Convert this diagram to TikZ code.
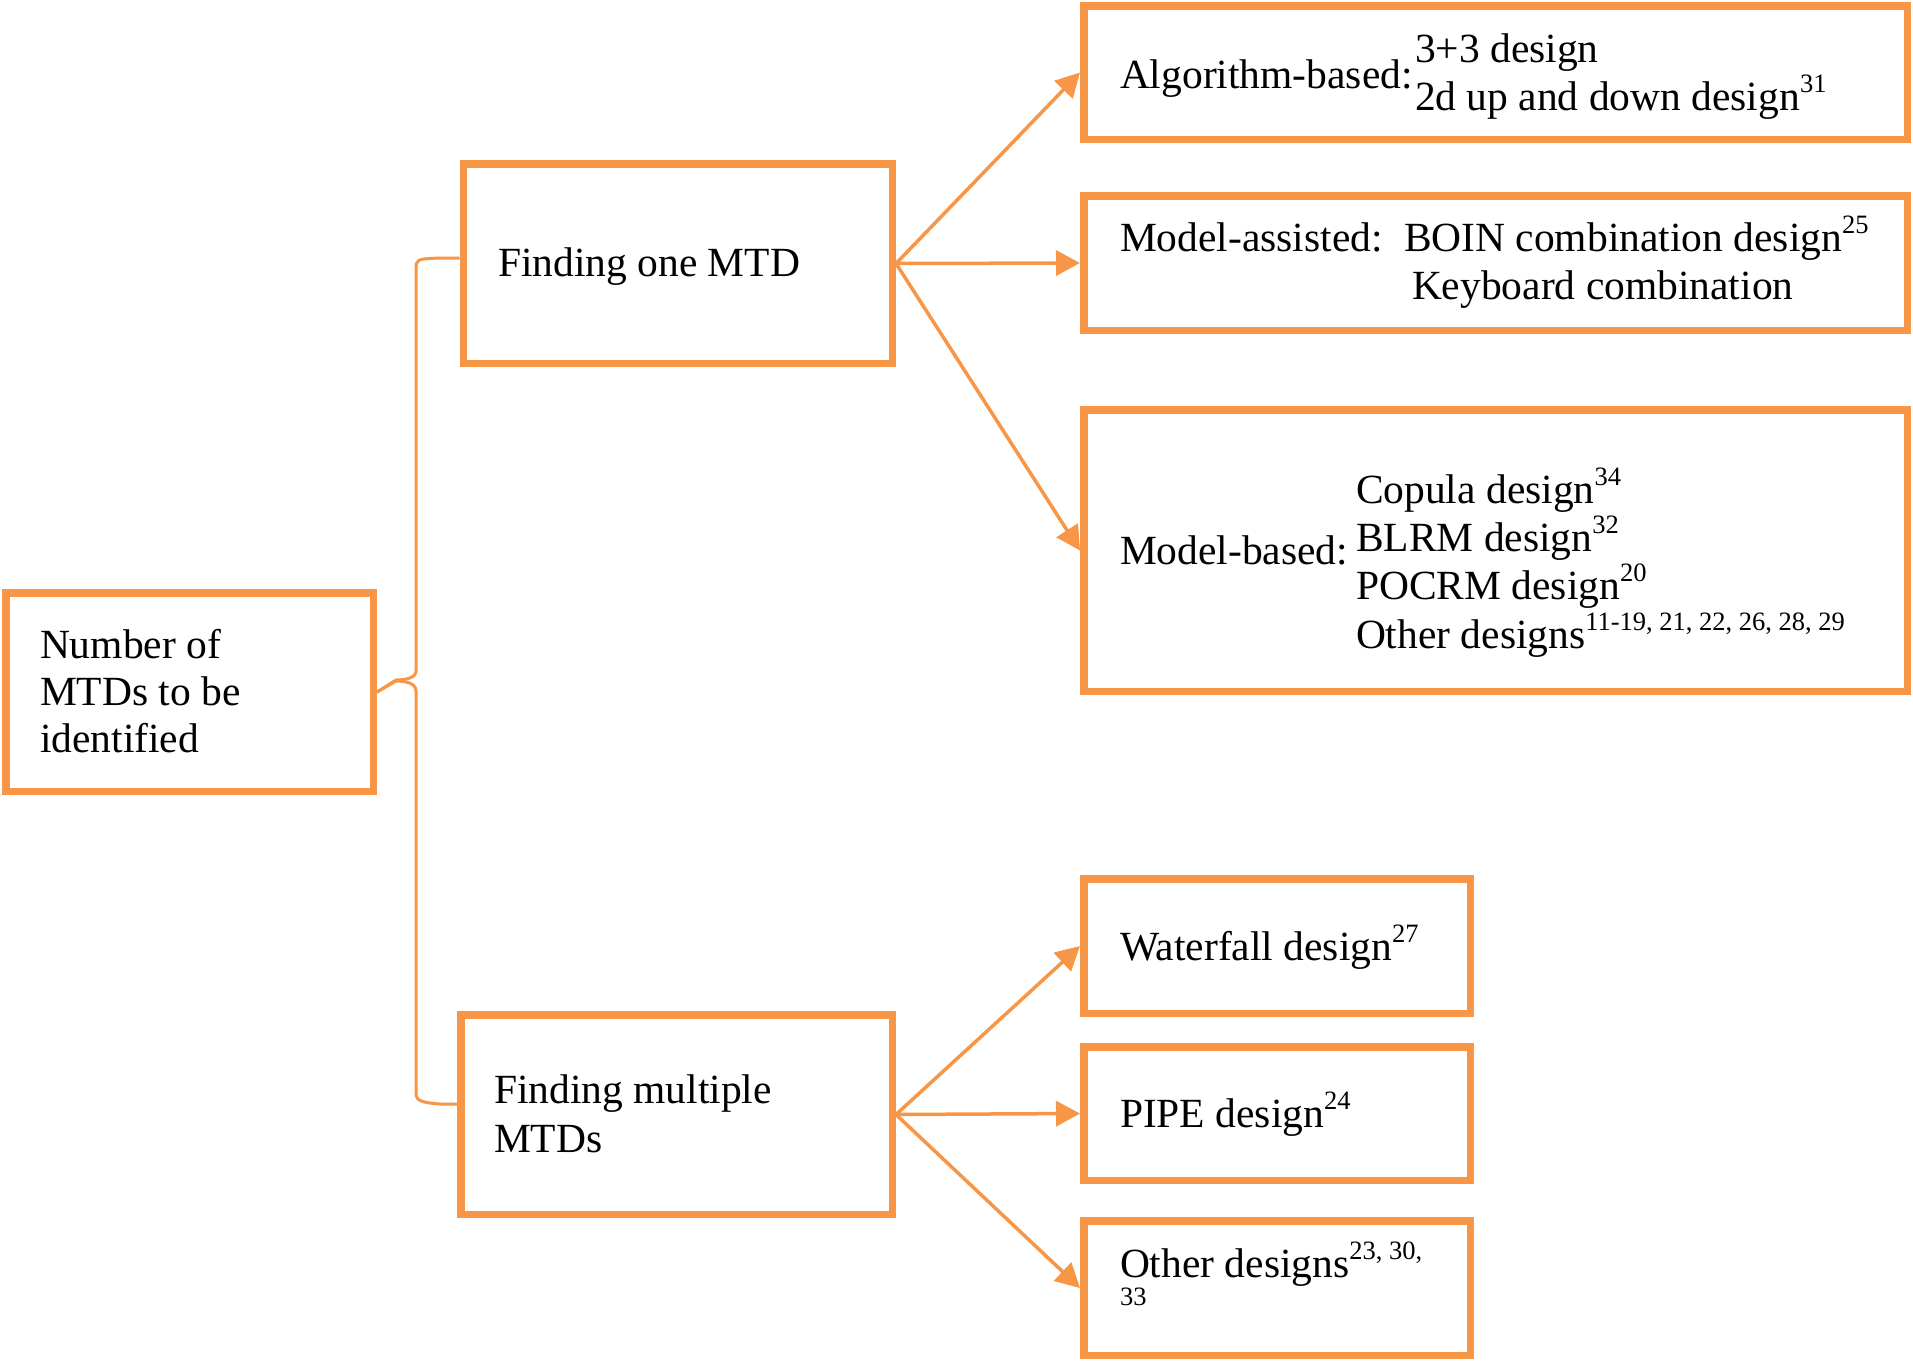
\documentclass[tikz,border=0pt]{standalone}
\usepackage{fontspec}
\setmainfont{Liberation Serif}
\usetikzlibrary{arrows.meta}
\definecolor{orangeC}{RGB}{247,150,70}
\newcommand\supr[1]{\raisebox{18pt}{\fontsize{26.5}{26.5}\selectfont #1}}
\begin{document}
\begin{tikzpicture}[x=1pt,y=-1pt,
  box/.style={draw=orangeC, line width=7.5pt, rectangle, inner sep=0pt, outer sep=3.75pt, anchor=north west},
  txt/.style={anchor=base west, inner sep=0pt, outer sep=0pt, font=\fontsize{41.5}{48}\selectfont},
  smalltxt/.style={anchor=base west, inner sep=0pt, outer sep=0pt, font=\fontsize{26.5}{26.5}\selectfont},
  arr/.style={draw=orangeC, line width=3.5pt, -{Triangle[length=24pt,width=25pt]}},
  brace/.style={draw=orangeC, line width=3pt, line join=round}
]
\useasboundingbox[fill=white] (0,0) rectangle (1913,1360);

% boxes
\node[box, minimum width=367.5pt, minimum height=198.5pt] (root) at (2,589) {};
\node[box, minimum width=429pt, minimum height=199.5pt] (f1) at (459.5,160) {};
\node[box, minimum width=431.5pt, minimum height=199.5pt] (f2) at (457,1011) {};
\node[box, minimum width=823.5pt, minimum height=133.5pt] (alg) at (1080,2) {};
\node[box, minimum width=823.5pt, minimum height=134.5pt] (ma) at (1080,192) {};
\node[box, minimum width=823.5pt, minimum height=281.5pt] (mb) at (1080,406) {};
\node[box, minimum width=386.5pt, minimum height=134.5pt] (wf) at (1080,875) {};
\node[box, minimum width=386.5pt, minimum height=133.5pt] (pipe) at (1080,1043) {};
\node[box, minimum width=386.5pt, minimum height=134.5pt] (oth) at (1080,1217) {};

% texts
\node[txt] (r1) at (40,658) {Number of};
\node[txt] (r2) at (40,705) {MTDs to be};
\node[txt] (r3) at (40,752) {identified};
\node[txt] (f1t) at (498,276) {Finding one MTD};
\node[txt] (f2a) at (494,1103) {Finding multiple};
\node[txt] (f2b) at (494,1152) {MTDs};

\node[txt] (algl) at (1120,88) {Algorithm-based:};
\node[txt] (alg1) at (1415,62) {3+3 design};
\node[txt] (alg2) at (1415,110) {2d up and down design\supr{31}};

\node[txt] (mal) at (1120,251) {Model-assisted:};
\node[txt] (ma1) at (1404,251) {BOIN combination design\supr{25}};
\node[txt] (ma2) at (1412,299) {Keyboard combination};

\node[txt] (mbl) at (1120,564) {Model-based:};
\node[txt] (mb1) at (1356,503) {Copula design\supr{34}};
\node[txt] (mb2) at (1356,551) {BLRM design\supr{32}};
\node[txt] (mb3) at (1356,599) {POCRM design\supr{20}};
\node[txt] (mb4) at (1356,648) {Other designs\supr{11-19, 21, 22, 26, 28, 29}};

\node[txt] (wft) at (1120,960) {Waterfall design\supr{27}};
\node[txt] (pipet) at (1120,1127) {PIPE design\supr{24}};
\node[txt] (otht) at (1120,1277) {Other designs\supr{23, 30,}};
\node[smalltxt] (otht2) at (1120,1305) {33};

% brace
\draw[brace] ([yshift=5.5pt]f1.west) -- (440,258) .. controls (416,259) .. (416,270)
  -- (416,671) .. controls (416,678) and (405,680) .. (396,680) -- (root.east);
\draw[brace] (root.east) -- (396,681) .. controls (405,681) and (416,683) .. (416,691)
  -- (416,1095) .. controls (416,1101) and (425,1103) .. (440,1104) -- ([yshift=10.5pt]f2.west);

% arrows
\draw[arr] (f1.east) -- (alg.west);
\draw[arr] (f1.east) -- (ma.west);
\draw[arr] (f1.east) -- (mb.west);
\draw[arr] (f2.east) -- (wf.west);
\draw[arr] (f2.east) -- (pipe.west);
\draw[arr] (f2.east) -- (oth.west);
\end{tikzpicture}
\end{document}
